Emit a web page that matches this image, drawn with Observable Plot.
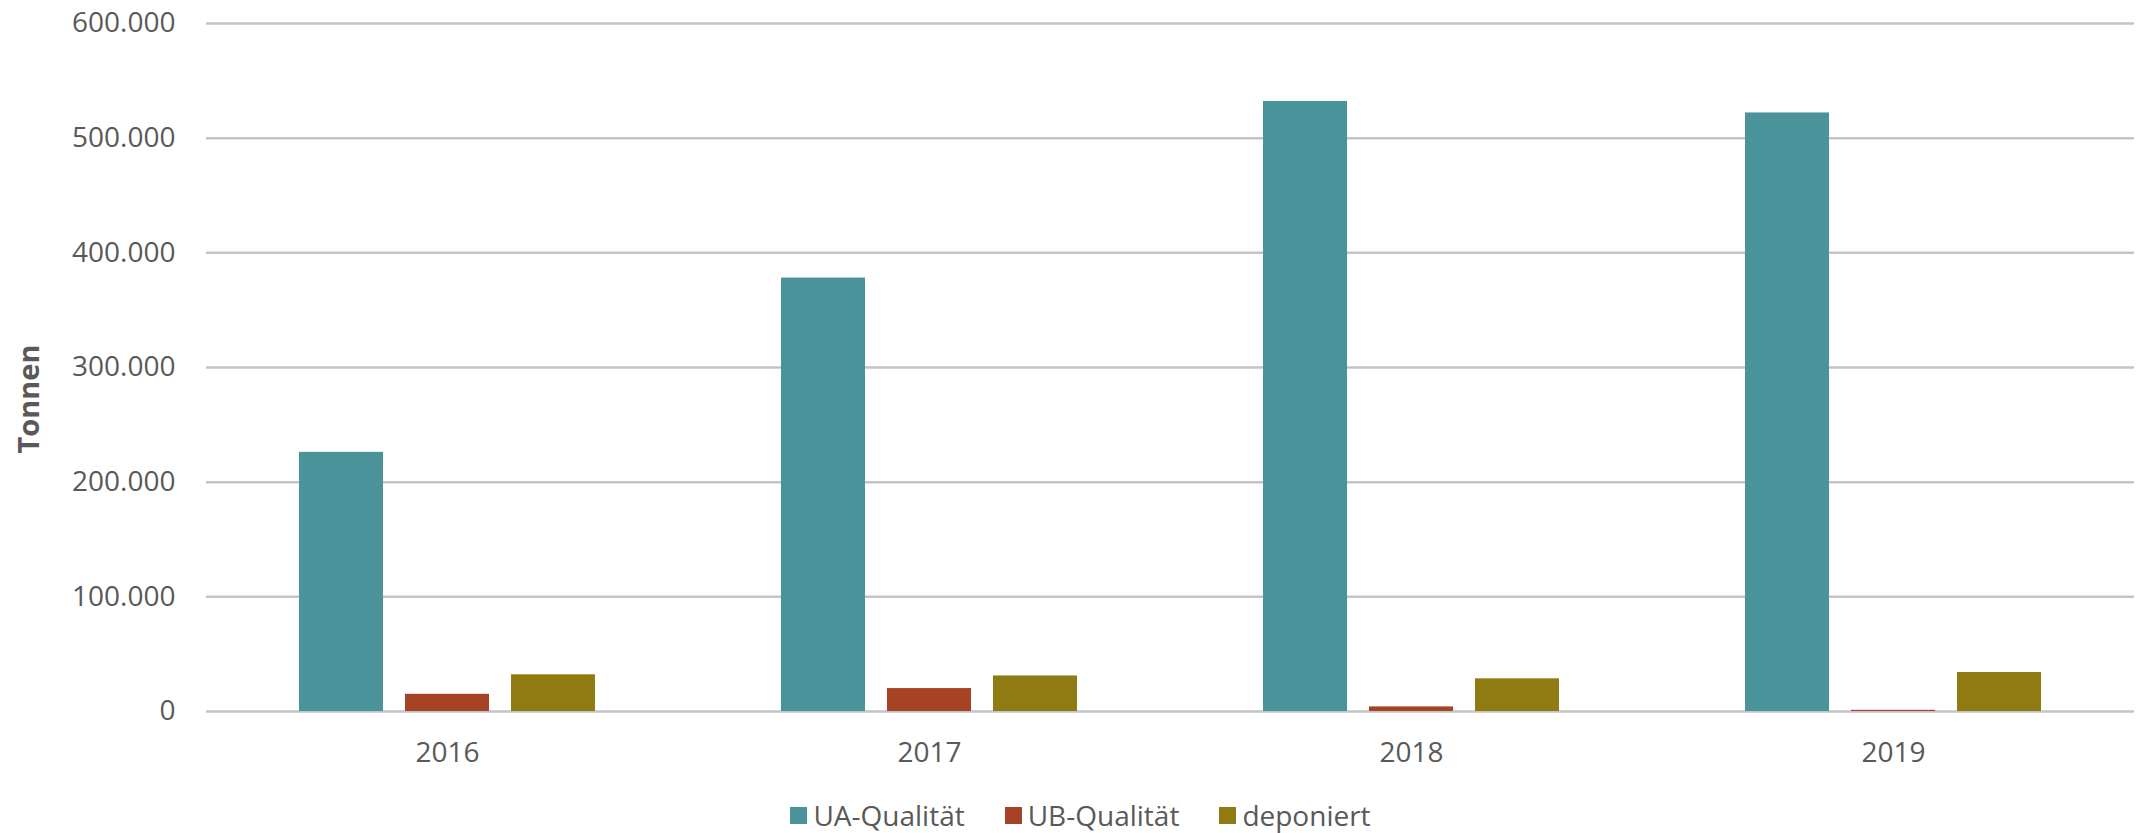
<!DOCTYPE html>
<html>
<head>
<meta charset="utf-8">
<script src="https://cdn.jsdelivr.net/npm/d3@7"></script>
<script src="https://cdn.jsdelivr.net/npm/@observablehq/plot@0.6"></script>
<style>
  html, body { margin: 0; padding: 0; background: #fff; }
  #wrap { position: relative; width: 2141px; height: 833px; font-family: "Open Sans", sans-serif; color: #595959; }
  #ytitle { position: absolute; left: 27px; top: 399px; transform: translate(-50%, -50%) rotate(-90deg); font-weight: bold; font-size: 29px; white-space: nowrap; }
  #legend { display: flex; justify-content: center; align-items: center; gap: 40px; margin-top: 18px; padding-left: 20px; font-size: 28px; line-height: 34px; }
  #legend .item { display: flex; align-items: center; gap: 6px; }
  #legend .sw { width: 17px; height: 17px; display: inline-block; }
</style>
</head>
<body>
<div id="wrap">
  <div id="chart"></div>
  <div id="legend"></div>
  <div id="ytitle">Tonnen</div>
</div>
<script>
const years = ["2016", "2017", "2018", "2019"];
const series = ["UA-Qualität", "UB-Qualität", "deponiert"];
const uaValues = [226000, 378000, 532000, 522000];
const ubValues = [15000, 20000, 4000, 1000];
const depValues = [32000, 31000, 28500, 34000];
const colors = ["#4A939A", "#A54324", "#8F7B12"];
const yTicks = [0, 100000, 200000, 300000, 400000, 500000, 600000];

const seriesValues = [uaValues, ubValues, depValues];
const data = [];
years.forEach((yr, i) => {
  series.forEach((s, j) => data.push({year: yr, series: s, value: seriesValues[j][i]}));
});

const de = d3.formatLocale({decimal: ",", thousands: ".", grouping: [3], currency: ["", " €"]});
const fmt = de.format(",d");

const chart = Plot.plot({
  width: 2141,
  height: 780,
  marginTop: 23,
  marginBottom: 69,
  marginLeft: 206,
  marginRight: 7,
  style: {fontFamily: "Open Sans, sans-serif", fontSize: "28px", color: "#595959", background: "#fff"},
  fx: {domain: years, padding: 0, label: null},
  x: {domain: series, paddingInner: 0.21, paddingOuter: 0.868, axis: null},
  y: {domain: [0, 600000], label: null},
  color: {domain: series, range: colors},
  marks: [
    Plot.ruleY(yTicks, {stroke: "#C4C4C4", strokeWidth: 2.5}),
    Plot.barY(data, {fx: "year", x: "series", y: "value", fill: "series"}),
    Plot.axisY(yTicks, {tickSize: 0, tickPadding: 31, tickFormat: fmt, fontSize: 28, label: null}),
    Plot.axisFx({anchor: "bottom", tickSize: 0, tickPadding: 31, fontSize: 28, label: null})
  ]
});
document.getElementById("chart").appendChild(chart);

const legend = document.getElementById("legend");
series.forEach((s, j) => {
  const item = document.createElement("div");
  item.className = "item";
  const sw = document.createElement("span");
  sw.className = "sw";
  sw.style.background = colors[j];
  const t = document.createElement("span");
  t.textContent = s;
  item.appendChild(sw);
  item.appendChild(t);
  legend.appendChild(item);
});
</script>
</body>
</html>
